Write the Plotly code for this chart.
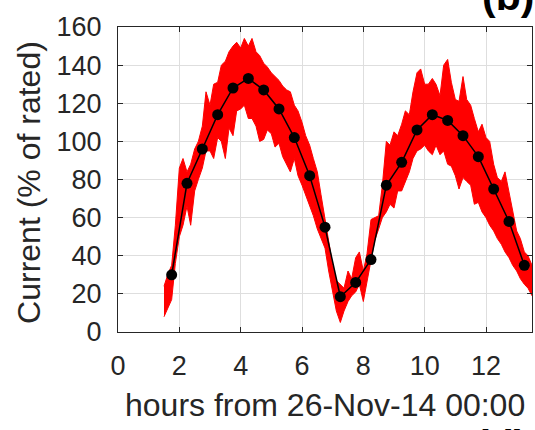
import plotly.graph_objects as go

# Hourly-sampled (every 30 min) mean current, % of rated
mean_hours = [1.75, 2.25, 2.75, 3.25, 3.75, 4.25, 4.75, 5.25, 5.75, 6.25, 6.75, 7.25,
              7.75, 8.25, 8.75, 9.25, 9.75, 10.25, 10.75, 11.25, 11.75, 12.25, 12.75, 13.25]
mean_current = [30, 78, 96, 114, 128, 133, 127, 117, 102, 82, 55, 18.5,
                26, 38, 77, 89, 106, 114, 111, 103, 92, 75, 58, 35]

# Envelope of the high-resolution (noisy) current trace
env_hours = [1.50, 1.62, 1.75, 1.87, 2.00, 2.12, 2.25, 2.37, 2.50, 2.62, 2.75, 2.87,
             3.00, 3.12, 3.25, 3.37, 3.50, 3.62, 3.75, 3.87, 4.00, 4.12, 4.25, 4.37,
             4.50, 4.62, 4.75, 4.87, 5.00, 5.12, 5.25, 5.37, 5.50, 5.62, 5.75, 5.87,
             6.00, 6.12, 6.25, 6.37, 6.50, 6.62, 6.75, 6.87, 7.00, 7.12, 7.25, 7.37,
             7.50, 7.62, 7.75, 7.87, 8.00, 8.12, 8.25, 8.37, 8.50, 8.62, 8.75, 8.87,
             9.00, 9.12, 9.25, 9.37, 9.50, 9.62, 9.75, 9.87, 10.00, 10.12, 10.25, 10.37,
             10.50, 10.62, 10.75, 10.87, 11.00, 11.12, 11.25, 11.37, 11.50, 11.62, 11.75, 11.87,
             12.00, 12.12, 12.25, 12.37, 12.50, 12.62, 12.75, 12.87, 13.00, 13.12, 13.25, 13.37,
             13.50]
env_high = [24, 30, 35, 56, 86, 91, 84, 88, 96, 100, 108, 126,
            119, 130, 131, 140, 142, 147, 150, 152, 149, 154, 150, 154,
            147, 145, 141, 139, 136, 134, 132, 129, 127, 126, 119, 116,
            110, 103, 98, 91, 84, 72, 60, 47, 35, 27, 25, 23,
            32, 28, 39, 42, 32, 41, 59, 60, 61, 77, 100, 98,
            105, 103, 109, 116, 114, 126, 136, 138, 130, 130, 133, 130,
            124, 140, 143, 131, 122, 121, 134, 122, 119, 112, 105, 109,
            102, 100, 88, 81, 79, 84, 74, 63, 53, 49, 42, 40,
            35]
env_low = [8, 12, 17, 36, 50, 56, 66, 56, 74, 80, 86, 95,
           95, 91, 102, 100, 91, 107, 103, 116, 117, 119, 112, 112,
           108, 100, 101, 106, 104, 97, 99, 92, 88, 84, 91, 82,
           77, 72, 67, 61, 54, 49, 44, 32, 21, 11, 5, 11,
           16, 19, 21, 25, 16, 27, 38, 48, 54, 60, 63, 67,
           65, 74, 74, 79, 84, 91, 95, 96, 98, 95, 93, 98,
           93, 95, 88, 87, 82, 75, 81, 79, 77, 67, 68, 63,
           60, 56, 53, 49, 46, 42, 39, 35, 32, 28, 25, 23,
           19]

x_ticks = [0, 2, 4, 6, 8, 10, 12]
y_ticks = [0, 20, 40, 60, 80, 100, 120, 140, 160]

FONT = "Liberation Sans, Arial, Helvetica, sans-serif"
AX = "#262626"
RED = "#ff0000"

fig = go.Figure()
fig.add_trace(go.Scatter(x=env_hours, y=env_low, mode="lines",
                         line=dict(color=RED, width=1), showlegend=False,
                         hoverinfo="skip"))
fig.add_trace(go.Scatter(x=env_hours, y=env_high, mode="lines",
                         line=dict(color=RED, width=1), fill="tonexty",
                         fillcolor=RED, showlegend=False, hoverinfo="skip"))
fig.add_trace(go.Scatter(x=mean_hours, y=mean_current, mode="lines+markers",
                         line=dict(color="black", width=1.5),
                         marker=dict(color="black", size=11),
                         showlegend=False))

axis_common = dict(
    showline=True, linecolor=AX, linewidth=1, mirror="allticks",
    ticks="inside", ticklen=5, tickcolor=AX, tickwidth=1,
    showgrid=True, gridcolor="#dedede", gridwidth=1,
    zeroline=False, tickfont=dict(family=FONT, size=27, color=AX),
)

fig.update_xaxes(range=[0, 13.5], tickvals=x_ticks,
                 ticktext=[str(v) for v in x_ticks],
                 ticklabelstandoff=10, **axis_common)
fig.update_yaxes(range=[0, 160], tickvals=y_ticks,
                 ticktext=[str(v) for v in y_ticks],
                 ticklabelstandoff=10, **axis_common)

fig.update_layout(
    width=535, height=430,
    margin=dict(l=118, r=3, t=27, b=98),
    paper_bgcolor="white", plot_bgcolor="white",
    font=dict(family=FONT, color=AX),
    annotations=[
        dict(text="hours from 26-Nov-14 00:00", xref="paper", yref="paper",
             x=0.5, y=-0.239, xanchor="center", yanchor="middle",
             showarrow=False, font=dict(family=FONT, size=32, color=AX)),
        dict(text="Current (% of rated)", xref="paper", yref="paper",
             x=-0.215, y=0.492, xanchor="center", yanchor="middle",
             textangle=-90, showarrow=False,
             font=dict(family=FONT, size=32, color=AX)),
        dict(text="<b>(b)</b>", xref="paper", yref="paper",
             x=0.874, y=1.02, xanchor="left", yanchor="bottom",
             showarrow=False, font=dict(family=FONT, size=41, color="black")),
        dict(text="<b>(d)</b>", xref="paper", yref="paper",
             x=0.857, y=-0.29, xanchor="left", yanchor="top",
             showarrow=False, font=dict(family=FONT, size=41, color="black")),
    ],
)

fig.write_html("out.html")
